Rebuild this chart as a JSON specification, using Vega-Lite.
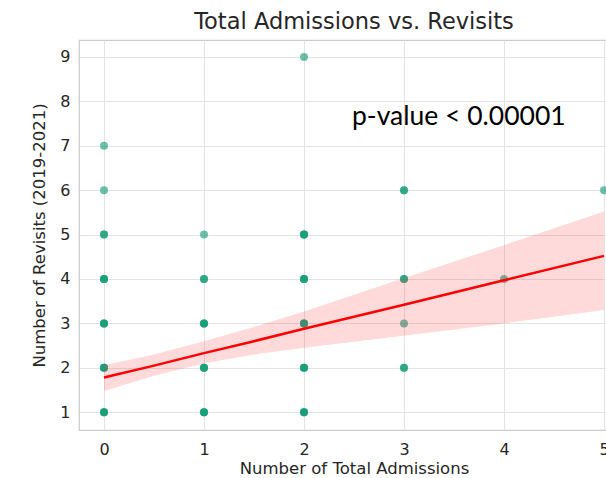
{
  "$schema": "https://vega.github.io/schema/vega-lite/v6.json",
  "autosize": {"type": "none"},
  "width": 528,
  "height": 390,
  "padding": {"left": 79, "top": 40, "right": 0, "bottom": 48},
  "background": "white",
  "config": {
    "font": "DejaVu Sans",
    "view": {"stroke": "#cccccc", "strokeWidth": 1.25},
    "axis": {
      "domain": false,
      "ticks": false,
      "gridColor": "#e3e3e3",
      "gridWidth": 1,
      "labelFont": "DejaVu Sans",
      "labelFontSize": 16,
      "labelColor": "#262626",
      "titleFont": "DejaVu Sans",
      "titleFontSize": 16.5,
      "titleFontWeight": "normal",
      "titleColor": "#262626"
    }
  },
  "title": {
    "text": "Total Admissions vs. Revisits",
    "font": "DejaVu Sans",
    "fontSize": 22.5,
    "fontWeight": "normal",
    "color": "#262626",
    "anchor": "middle",
    "dx": 11,
    "offset": 7
  },
  "datasets": {
    "pts": [
      {"adm": 0, "rev": 7}, {"adm": 0, "rev": 6},
      {"adm": 0, "rev": 5}, {"adm": 0, "rev": 5},
      {"adm": 0, "rev": 4}, {"adm": 0, "rev": 4}, {"adm": 0, "rev": 4},
      {"adm": 0, "rev": 3}, {"adm": 0, "rev": 3}, {"adm": 0, "rev": 3},
      {"adm": 0, "rev": 2}, {"adm": 0, "rev": 2}, {"adm": 0, "rev": 2},
      {"adm": 0, "rev": 1}, {"adm": 0, "rev": 1}, {"adm": 0, "rev": 1},
      {"adm": 1, "rev": 5},
      {"adm": 1, "rev": 4}, {"adm": 1, "rev": 4},
      {"adm": 1, "rev": 3}, {"adm": 1, "rev": 3}, {"adm": 1, "rev": 3},
      {"adm": 1, "rev": 2}, {"adm": 1, "rev": 2}, {"adm": 1, "rev": 2},
      {"adm": 1, "rev": 1}, {"adm": 1, "rev": 1}, {"adm": 1, "rev": 1},
      {"adm": 2, "rev": 9},
      {"adm": 2, "rev": 5}, {"adm": 2, "rev": 5}, {"adm": 2, "rev": 5},
      {"adm": 2, "rev": 4}, {"adm": 2, "rev": 4}, {"adm": 2, "rev": 4},
      {"adm": 2, "rev": 3}, {"adm": 2, "rev": 3}, {"adm": 2, "rev": 3},
      {"adm": 2, "rev": 2}, {"adm": 2, "rev": 2}, {"adm": 2, "rev": 2},
      {"adm": 2, "rev": 1}, {"adm": 2, "rev": 1}, {"adm": 2, "rev": 1},
      {"adm": 3, "rev": 6}, {"adm": 3, "rev": 6},
      {"adm": 3, "rev": 4}, {"adm": 3, "rev": 4},
      {"adm": 3, "rev": 3},
      {"adm": 3, "rev": 2}, {"adm": 3, "rev": 2},
      {"adm": 4, "rev": 4},
      {"adm": 5, "rev": 6}
    ],
    "band": [
      {"adm": 0, "lo": 1.48, "hi": 2.06, "fit": 1.78},
      {"adm": 0.5, "lo": 1.82, "hi": 2.3, "fit": 2.05},
      {"adm": 1, "lo": 2.1, "hi": 2.6, "fit": 2.33},
      {"adm": 1.5, "lo": 2.3, "hi": 2.92, "fit": 2.6},
      {"adm": 2, "lo": 2.45, "hi": 3.27, "fit": 2.88},
      {"adm": 3, "lo": 2.72, "hi": 4.02, "fit": 3.42},
      {"adm": 4, "lo": 3.0, "hi": 4.76, "fit": 3.97},
      {"adm": 5, "lo": 3.3, "hi": 5.52, "fit": 4.52}
    ],
    "note": [{"adm": 2.48, "rev": 7.64, "label": "p-value < 0.00001"}]
  },
  "encoding": {
    "x": {
      "field": "adm", "type": "quantitative",
      "scale": {"domain": [-0.25, 5.03], "nice": false, "zero": false},
      "axis": {"title": "Number of Total Admissions", "values": [0, 1, 2, 3, 4, 5], "labelPadding": 11, "titlePadding": 3, "titleX": 275, "format": "d"}
    }
  },
  "layer": [
    {
      "data": {"name": "pts"},
      "mark": {"type": "circle", "size": 64, "color": "#0f9b73", "opacity": 0.62, "clip": true},
      "encoding": {
        "y": {
          "field": "rev", "type": "quantitative",
          "scale": {"domain": [0.6, 9.38], "nice": false, "zero": false},
          "axis": {"title": "Number of Revisits (2019-2021)", "values": [1, 2, 3, 4, 5, 6, 7, 8, 9], "labelPadding": 9, "titlePadding": 12, "format": "d"}
        }
      }
    },
    {
      "data": {"name": "band"},
      "mark": {"type": "area", "color": "#ff3030", "opacity": 0.18, "clip": true},
      "encoding": {
        "y": {"field": "lo", "type": "quantitative"},
        "y2": {"field": "hi"}
      }
    },
    {
      "data": {"name": "band"},
      "mark": {"type": "line", "color": "#ff0000", "strokeWidth": 2.5, "clip": true},
      "encoding": {
        "y": {"field": "fit", "type": "quantitative"}
      }
    },
    {
      "data": {"name": "note"},
      "mark": {"type": "text", "font": "Lato", "fontSize": 26.5, "color": "#000000", "align": "left", "baseline": "middle"},
      "encoding": {
        "y": {"field": "rev", "type": "quantitative"},
        "text": {"field": "label"}
      }
    }
  ]
}
